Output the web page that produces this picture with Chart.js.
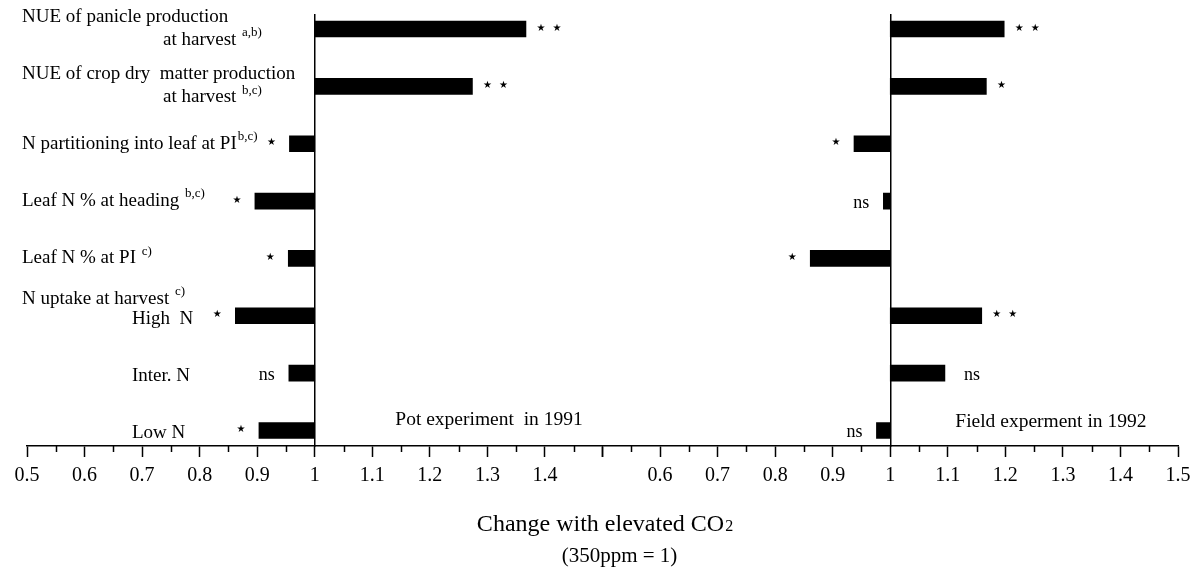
<!DOCTYPE html>
<html>
<head>
<meta charset="utf-8">
<script src="https://cdn.jsdelivr.net/npm/chart.js@4"></script>
<style>
  html, body { margin: 0; padding: 0; background: #fff; }
  #wrap { width: 1203px; height: 578px; }
</style>
</head>
<body>
<div id="wrap"><canvas id="myChart"></canvas></div>
<script>
// Row labels, top to bottom. Text after '^' is the footnote mark
const traits = [
  ['NUE of panicle production', 'at harvest ^a,b)'],
  ['NUE of crop dry  matter production', 'at harvest ^b,c)'],
  ['N partitioning into leaf at PI^b,c)'],
  ['Leaf N % at heading ^b,c)'],
  ['Leaf N % at PI ^c)']
]
const uptakeHeader = 'N uptake at harvest ^c)'
const nLevels = ['High  N', 'Inter. N', 'Low N']
const rowLabels = [...traits, ...nLevels.map(n => [n])]

// Ratio elevated / 350ppm, same row order
const pot1991 = [1.367, 1.274, 0.956, 0.896, 0.954, 0.862, 0.955, 0.903]
const field1992 = [1.198, 1.167, 0.937, 0.988, 0.861, 1.159, 1.095, 0.976]

// Significance of the CO2 effect
const sigPot = ['**', '**', '*', '*', '*', '*', 'ns', '*']
const sigField = ['**', '*', '*', 'ns', '*', '**', 'ns', 'ns']

const panelNames = ['Pot experiment  in 1991', 'Field experment in 1992']
const axisTitle = ['Change with elevated CO', '2']
const axisSubtitle = '(350ppm = 1)'

const serif = '"Liberation Serif", "Times New Roman", serif'

function tickLabel(hide) {
  return v => Math.abs(v - hide) < 1e-6 ? '' : String(Number(v.toFixed(2)))
}

function xAxis(hide) {
  return {
    type: 'linear', axis: 'x', position: 'bottom', stack: 'bottom', stackWeight: 1,
    min: 0.5, max: 1.5,
    border: { display: true, color: '#000', width: 1.5 },
    grid: { drawOnChartArea: false, drawTicks: true, tickLength: 11, tickColor: '#000', tickWidth: 1.5 },
    ticks: {
      stepSize: 0.1, autoSkip: false, maxRotation: 0, padding: 7,
      color: '#000', font: { family: serif, size: 20 },
      callback: tickLabel(hide)
    }
  }
}

function yAxis(at) {
  return {
    type: 'linear', axis: 'y', position: at, reverse: true, offset: false,
    min: 0.756, max: 8.27,
    border: { display: true, color: '#000', width: 1.5 },
    grid: { drawOnChartArea: false, drawTicks: false },
    ticks: { display: false }
  }
}

function drawLabel(ctx, text, x, y) {
  const [main, note] = text.split('^')
  ctx.font = '19px ' + serif
  ctx.textAlign = 'left'
  ctx.fillText(main, x, y)
  if (note) {
    const w = ctx.measureText(main).width
    ctx.font = '13px ' + serif
    ctx.fillText(note, x + w + 1, y - 7)
  }
}

function drawSig(ctx, mark, xs, ys, value, row) {
  const xb = xs.getPixelForValue(value)
  const yc = ys.getPixelForValue(row + 1)
  const right = value > 1
  if (mark === 'ns') {
    ctx.font = '18px ' + serif
    ctx.textAlign = right ? 'left' : 'right'
    ctx.fillText('ns', right ? xb + 19 : xb - 14, yc + 2)
  } else {
    ctx.font = '10px "DejaVu Sans"'
    ctx.textAlign = 'center'
    const span = (mark.length - 1) * 16
    const start = right ? xb + 15 : xb - 18 - span
    for (let k = 0; k < mark.length; k++) ctx.fillText('\u2605', start + k * 16, yc - 1)
  }
}

const textPlugin = {
  id: 'figureText',
  afterDraw(chart) {
    const { ctx, chartArea } = chart
    const x1 = chart.scales.x, x2 = chart.scales.x2, ys = chart.scales.y
    ctx.save()
    ctx.fillStyle = '#000'
    ctx.strokeStyle = '#000'

    // minor ticks halfway between the labelled ones
    ctx.lineWidth = 1.5
    ;[x1, x2].forEach(s => {
      for (let i = 0; i < 10; i++) {
        const px = Math.round(s.getPixelForValue(0.55 + i * 0.1)) + 0.5
        ctx.beginPath()
        ctx.moveTo(px, s.top)
        ctx.lineTo(px, s.top + 6)
        ctx.stroke()
      }
    })

    // row labels
    ctx.textBaseline = 'middle'
    const x0 = chartArea.left - 5
    rowLabels.forEach((lines, i) => {
      const yc = ys.getPixelForValue(i + 1)
      if (i >= traits.length) {
        if (i === traits.length) drawLabel(ctx, uptakeHeader, x0, yc - 17)
        drawLabel(ctx, lines[0], x0 + 110, yc + 3)
      } else if (lines.length > 1) {
        drawLabel(ctx, lines[0], x0, yc - 12)
        drawLabel(ctx, lines[1], x0 + 141, yc + 11)
      } else {
        drawLabel(ctx, lines[0], x0, yc)
      }
    })

    // significance marks
    pot1991.forEach((v, i) => drawSig(ctx, sigPot[i], x1, ys, v, i))
    field1992.forEach((v, i) => drawSig(ctx, sigField[i], x2, ys, v, i))

    // panel names
    ctx.font = '19.5px ' + serif
    ctx.textAlign = 'left'
    ctx.fillText(panelNames[0], x1.getPixelForValue(1.14), chartArea.bottom - 26)
    ctx.fillText(panelNames[1], x2.getPixelForValue(1.113), chartArea.bottom - 24)

    // axis title
    ctx.textBaseline = 'alphabetic'
    ctx.font = '24px ' + serif
    const wMain = ctx.measureText(axisTitle[0]).width
    ctx.font = '16px ' + serif
    const wSub = ctx.measureText(axisTitle[1]).width
    const tx = chart.width / 2 + 3 - (wMain + wSub) / 2
    ctx.font = '24px ' + serif
    ctx.fillText(axisTitle[0], tx, chart.height - 47)
    ctx.font = '16px ' + serif
    ctx.fillText(axisTitle[1], tx + wMain + 1, chart.height - 47)
    ctx.font = '21px ' + serif
    ctx.textAlign = 'center'
    ctx.fillText(axisSubtitle, chart.width / 2 + 18, chart.height - 16)
    ctx.restore()
  }
}

const data = {
  datasets: [
    {
      label: 'Pot experiment in 1991',
      xAxisID: 'x', yAxisID: 'y',
      data: pot1991.map((v, i) => ({ x: [1, v], y: i + 1 })),
      backgroundColor: '#000', borderWidth: 0, barThickness: 16, grouped: false
    },
    {
      label: 'Field experment in 1992',
      xAxisID: 'x2', yAxisID: 'y2',
      data: field1992.map((v, i) => ({ x: [1, v], y: i + 1 })),
      backgroundColor: '#000', borderWidth: 0, barThickness: 16, grouped: false
    }
  ]
}

const config = {
  type: 'bar',
  data,
  options: {
    indexAxis: 'y',
    responsive: true,
    maintainAspectRatio: false,
    animation: false,
    layout: { padding: { top: 15, left: 27, right: 25, bottom: 83 } },
    plugins: { legend: { display: false }, tooltip: { enabled: false } },
    scales: {
      x: xAxis(1.5),
      x2: xAxis(0.5),
      y: yAxis({ x: 1 }),
      y2: yAxis({ x2: 1 })
    }
  },
  plugins: [textPlugin]
}

const myChart = new Chart(document.getElementById('myChart'), config)
</script>
</body>
</html>
